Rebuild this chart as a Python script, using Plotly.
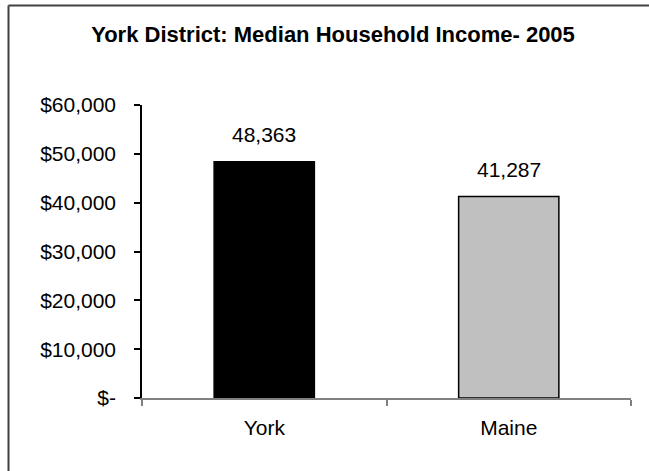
import plotly.graph_objects as go

# data
regions = ["York", "Maine"]
income = [48363, 41287]
bar_colors = ["#000000", "#C0C0C0"]
y_ticks = [0, 10000, 20000, 30000, 40000, 50000, 60000]
y_tick_text = ["$-", "$10,000", "$20,000", "$30,000", "$40,000", "$50,000", "$60,000"]

W, H = 649, 471
# plot area in pixels
left, right, top, bottom = 142, 631, 105, 398
pw, ph = right - left, bottom - top

font = "Liberation Sans, Arial, sans-serif"

fig = go.Figure()
fig.add_trace(
    go.Bar(
        x=regions,
        y=income,
        marker_color=bar_colors,
        marker_line_color="#000000",
        marker_line_width=1.5,
        hoverinfo="x+y",
    )
)

# value labels above bars
for name, val in zip(regions, income):
    fig.add_annotation(
        x=name,
        y=val,
        text=f"{val:,}",
        showarrow=False,
        yanchor="middle",
        yshift=27,
        font={"size": 21, "color": "#000000", "family": font},
    )

# outer chart border: only its top and left edges fall inside the picture
bx0 = (8.5 - left) / pw
by0 = (bottom - 5.5) / ph
fig.add_shape(
    type="line", xref="paper", yref="paper",
    x0=bx0, x1=(W - left) / pw, y0=by0, y1=by0,
    line={"color": "#404040", "width": 2},
)
fig.add_shape(
    type="line", xref="paper", yref="paper",
    x0=bx0, x1=bx0, y0=by0, y1=(bottom - H) / ph,
    line={"color": "#404040", "width": 2},
)

fig.update_layout(
    width=W,
    height=H,
    margin={"l": left, "r": W - right, "t": top, "b": H - bottom, "pad": 0},
    paper_bgcolor="#FFFFFF",
    plot_bgcolor="#FFFFFF",
    bargap=0.59,
    showlegend=False,
    font={"family": font, "size": 21, "color": "#000000"},
    title={
        "text": "<b>York District: Median Household Income- 2005</b>",
        "x": 333 / W,
        "xanchor": "center",
        "xref": "container",
        "y": 1 - 34 / H,
        "yanchor": "middle",
        "yref": "container",
        "font": {"size": 22, "color": "#000000", "family": font},
    },
)
fig.update_xaxes(
    type="category",
    showgrid=False,
    zeroline=False,
    showline=True,
    linecolor="#808080",
    linewidth=1.5,
    ticks="outside",
    tickson="boundaries",
    ticklen=6,
    tickcolor="#808080",
    tickwidth=1.5,
    ticklabelstandoff=10,
    tickfont={"size": 21},
    fixedrange=True,
)
fig.update_yaxes(
    range=[0, 60000],
    tickmode="array",
    tickvals=y_ticks,
    ticktext=y_tick_text,
    showgrid=False,
    zeroline=False,
    showline=True,
    linecolor="#000000",
    linewidth=1.5,
    ticks="outside",
    ticklen=6,
    tickcolor="#000000",
    tickwidth=1.5,
    ticklabelstandoff=14,
    tickfont={"size": 21},
    fixedrange=True,
)

fig.write_html(
    "out.html",
    config={"displayModeBar": False},
    post_script="document.body.style.margin = '0'; document.body.style.overflow = 'hidden';",
)
